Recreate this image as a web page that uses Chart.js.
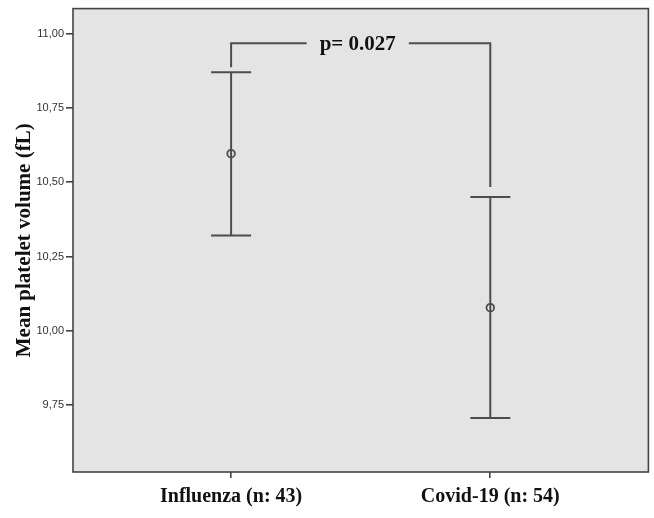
<!DOCTYPE html>
<html>
<head>
<meta charset="utf-8">
<script src="https://cdn.jsdelivr.net/npm/chart.js@4/dist/chart.umd.min.js"></script>
<style>
  html, body { margin: 0; padding: 0; background: #ffffff; }
  #wrap { width: 654px; height: 518px; }
</style>
</head>
<body>
<div id="wrap"><canvas id="c" width="654" height="518"></canvas></div>
<script>
// ---- data ----
const categories = ['Influenza (n: 43)', 'Covid-19 (n: 54)'];
const means = [10.596, 10.078];
const upperCI = [10.870, 10.450];
const lowerCI = [10.321, 9.707];
const yTickValues = [9.75, 10.00, 10.25, 10.50, 10.75, 11.00];
const yAxisTitle = 'Mean platelet volume (fL)';
const pValueLabel = 'p= 0.027';

const LINE = '#4d4d4d';
const PLOT_BG = '#e4e4e4';

const framePlugin = {
  id: 'frame',
  beforeDatasetsDraw(chart) {
    const a = chart.chartArea;
    const ctx = chart.ctx;
    ctx.save();
    ctx.fillStyle = PLOT_BG;
    ctx.fillRect(a.left, a.top, a.right - a.left, a.bottom - a.top);
    ctx.strokeStyle = '#444444';
    ctx.lineWidth = 1.6;
    ctx.strokeRect(a.left, a.top, a.right - a.left, a.bottom - a.top);
    // error bars
    const xs = chart.scales.x, ys = chart.scales.y;
    ctx.strokeStyle = LINE;
    ctx.lineWidth = 2;
    const capHalf = 20;
    categories.forEach((c, i) => {
      const px = xs.getPixelForValue(i);
      const pu = ys.getPixelForValue(upperCI[i]);
      const pl = ys.getPixelForValue(lowerCI[i]);
      ctx.beginPath();
      ctx.moveTo(px, pu); ctx.lineTo(px, pl);
      ctx.moveTo(px - capHalf, pu); ctx.lineTo(px + capHalf, pu);
      ctx.moveTo(px - capHalf, pl); ctx.lineTo(px + capHalf, pl);
      ctx.stroke();
    });
    // significance bracket
    const x0 = xs.getPixelForValue(0), x1 = xs.getPixelForValue(1);
    const u0 = ys.getPixelForValue(upperCI[0]), u1 = ys.getPixelForValue(upperCI[1]);
    const yTop = Math.min(u0, u1) - 29;
    ctx.font = 'bold 21px "Liberation Serif", "Times New Roman", serif';
    const tw = ctx.measureText(pValueLabel).width;
    const mid = (x0 + x1) / 2 - 3;
    const gap = tw / 2 + 13;
    ctx.beginPath();
    ctx.moveTo(x0, u0 - 5); ctx.lineTo(x0, yTop); ctx.lineTo(mid - gap, yTop);
    ctx.moveTo(mid + gap, yTop); ctx.lineTo(x1, yTop); ctx.lineTo(x1, u1 - 10);
    ctx.stroke();
    ctx.fillStyle = '#111111';
    ctx.textAlign = 'center';
    ctx.textBaseline = 'middle';
    ctx.fillText(pValueLabel, mid, yTop + 1);
    ctx.restore();
  }
};

new Chart(document.getElementById('c'), {
  type: 'scatter',
  data: {
    datasets: [{
      data: means.map((m, i) => ({ x: i, y: m })),
      pointStyle: 'circle',
      pointRadius: 3.8,
      pointHoverRadius: 3.8,
      pointBackgroundColor: 'rgba(0,0,0,0)',
      pointBorderColor: LINE,
      pointBorderWidth: 1.8,
      showLine: false
    }]
  },
  options: {
    responsive: false,
    animation: false,
    events: [],
    layout: { padding: { top: 8, right: 4, left: 0, bottom: 0 } },
    plugins: { legend: { display: false }, tooltip: { enabled: false } },
    scales: {
      x: {
        type: 'linear',
        min: -0.61,
        max: 1.61,
        afterBuildTicks(scale) { scale.ticks = categories.map((c, i) => ({ value: i })); },
        afterFit(scale) { scale.height = 46; },
        border: { display: false },
        grid: { drawOnChartArea: false, drawTicks: true, tickLength: 6, color: '#444444', lineWidth: 1.6 },
        ticks: {
          autoSkip: false,
          maxRotation: 0,
          padding: 7,
          color: '#111111',
          font: { family: '"Liberation Serif", "Times New Roman", serif', size: 20, weight: 'bold' },
          callback: (v) => categories[v]
        }
      },
      y: {
        type: 'linear',
        min: 9.525,
        max: 11.084,
        afterBuildTicks(scale) { scale.ticks = yTickValues.map(v => ({ value: v })); },
        afterFit(scale) { scale.width = 73; },
        border: { display: false },
        grid: { drawOnChartArea: false, drawTicks: true, tickLength: 7, color: '#444444', lineWidth: 1.6 },
        ticks: {
          padding: 2,
          color: '#333333',
          font: { family: '"Liberation Sans", Arial, sans-serif', size: 11 },
          callback: (v) => v.toFixed(2).replace('.', ',')
        },
        title: {
          display: true,
          text: yAxisTitle,
          color: '#111111',
          padding: { top: 12, bottom: 0 },
          font: { family: '"Liberation Serif", "Times New Roman", serif', size: 21, weight: 'bold' }
        }
      }
    }
  },
  plugins: [framePlugin]
});
</script>
</body>
</html>
